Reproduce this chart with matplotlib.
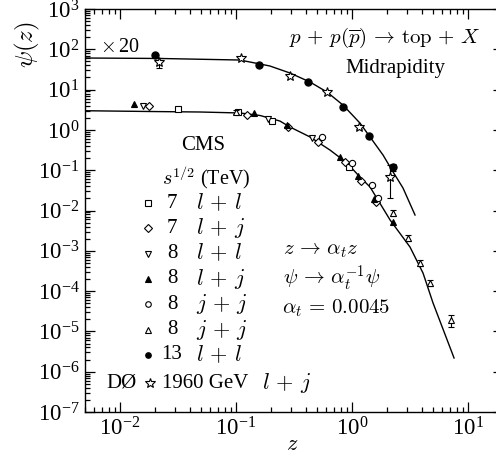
import numpy as np
import matplotlib
matplotlib.use("Agg")
import matplotlib.pyplot as plt
from matplotlib.ticker import LogLocator, FixedLocator, NullFormatter

plt.rcParams['font.family'] = ['Liberation Serif', 'DejaVu Serif']
plt.rcParams['mathtext.fontset'] = 'cm'

# fit curves
curve_lo_z = [0.005, 0.0182, 0.049, 0.108, 0.161, 0.239, 0.292, 0.435, 0.645,
              0.906, 1.17, 1.43, 2.13, 3.16, 4.09, 4.99, 7.57]
curve_lo_psi = [2.99, 2.86, 2.78, 2.63, 2.28, 1.66, 1.18, 0.667, 0.317,
                0.151, 0.0678, 0.0383, 5.8e-3, 1.24e-3, 2.81e-4, 5.07e-5, 2.19e-6]
curve_hi_z = [0.005, 0.0221, 0.108, 0.161, 0.196, 0.292, 0.435, 0.608, 0.835,
              1.17, 1.43, 1.85, 2.26, 2.75, 3.49]
curve_hi_psi = [60.8, 59.2, 54.2, 43.2, 38.5, 25.8, 15.4, 8.71, 4.15,
                1.48, 0.667, 0.238, 0.0902, 0.0361, 7.73e-3]

# CMS data (lower set)
sq_z = [0.0316, 0.105, 0.204, 0.942]
sq_psi = [3.3, 2.75, 1.66, 0.12]
dia_z = [0.0178, 0.124, 0.281, 0.509, 0.871, 1.20, 1.60]
dia_psi = [3.9, 2.35, 1.18, 0.50, 0.16, 0.054, 0.016]
dtri_z = [0.0158, 0.189, 0.452]
dtri_psi = [3.9, 1.86, 0.63]
ftri_z = [0.0132, 0.143, 0.275, 0.789, 1.13, 1.55, 2.26]
ftri_psi = [4.4, 2.6, 1.3, 0.21, 0.072, 0.019, 5.2e-3]
circ_z = [0.55, 1.0, 1.49, 1.66]
circ_psi = [0.68, 0.15, 0.043, 0.021]
otri_z = [0.10, 2.26, 3.04, 3.85, 4.70, 7.13]
otri_psi = [2.8, 8.7e-3, 2.1e-3, 5.0e-4, 1.6e-4, 1.9e-5]
otri_err = [0.3, 1.5e-3, 3.5e-4, 8.5e-5, 2.7e-5, 6.5e-6]

# x20 set
fcirc_z = [0.020, 0.158, 0.418, 0.835, 1.40, 2.26]
fcirc_psi = [72, 41, 15.5, 3.7, 0.71, 0.12]
fcirc_err = [0, 0, 0, 0, 0, 0.025]
star_z = [0.0217, 0.110, 0.292, 0.608, 1.15, 2.13]
star_psi = [48, 61, 21.7, 8.7, 1.18, 0.068]
star_err_lo = [13, 0, 0, 0, 0.12, 0.048]
star_err_hi = [13, 0, 0, 0, 0.12, 0.067]

x_major = [1e-2, 1e-1, 1e0, 1e1]
y_major = [1e-7, 1e-6, 1e-5, 1e-4, 1e-3, 1e-2, 1e-1, 1e0, 1e1, 1e2, 1e3]

W, H = 496, 463
fig = plt.figure(figsize=(W / 100, H / 100), dpi=100)
ax = fig.add_axes([85 / W, 1 - 412 / H, 418 / W, 403 / H])


def px(x, y):
    return x / W, 1 - y / H


ax.plot(curve_lo_z, curve_lo_psi, color='black', lw=1.0, zorder=2)
ax.plot(curve_hi_z, curve_hi_psi, color='black', lw=1.0, zorder=2)

mk = dict(ms=4.5, mew=0.8, mec='black', linestyle='none', zorder=3)
eb = dict(ecolor='black', elinewidth=0.8, capsize=2.5, capthick=0.8)
ax.plot(sq_z, sq_psi, marker='s', mfc='white', **dict(mk, ms=4.2))
ax.plot(dia_z, dia_psi, marker='D', mfc='white', **dict(mk, ms=4.0))
ax.plot(dtri_z, dtri_psi, marker='v', mfc='white', **mk)
ax.plot(ftri_z, ftri_psi, marker='^', mfc='black', **mk)
ax.plot(circ_z, circ_psi, marker='o', mfc='white', **mk)
ax.errorbar(otri_z, otri_psi, yerr=otri_err, marker='^', mfc='white', **eb, **dict(mk, ms=4.0))
ax.errorbar(fcirc_z, fcirc_psi, yerr=fcirc_err, marker='o', mfc='black', **eb, **dict(mk, ms=5.2))
ax.errorbar(star_z, star_psi, yerr=[star_err_lo, star_err_hi], marker='*', mfc='white',
            **eb, **dict(mk, ms=7))

ax.set_xscale('log')
ax.set_yscale('log')
ax.set_xlim(0.005, 20)
ax.set_ylim(1e-7, 1e3)
ax.yaxis.set_major_locator(FixedLocator(y_major))
ax.yaxis.set_minor_locator(LogLocator(base=10, subs=np.arange(2, 10), numticks=100))
ax.yaxis.set_minor_formatter(NullFormatter())
ax.xaxis.set_major_locator(FixedLocator(x_major))
ax.xaxis.set_minor_locator(LogLocator(base=10, subs=np.arange(2, 10), numticks=100))
ax.xaxis.set_minor_formatter(NullFormatter())
ax.tick_params(which='both', direction='in', top=True, right=True, width=0.9,
               labelsize=16.5, pad=4)
ax.tick_params(which='major', length=7)
ax.tick_params(which='minor', length=3.5)
for s in ax.spines.values():
    s.set_linewidth(1.0)

# axis labels
fig.text(*px(292, 446), '$z$', fontsize=16, ha='center', va='center')
fig.text(*px(27, 45), r'$\psi(z)$', fontsize=18, ha='center', va='center', rotation=90)

# annotations
fig.text(*px(100, 47), r'$\times\,$20', fontsize=14.5, ha='left', va='center')
fig.text(*px(481, 38), r'$p\,+\,p(\overline{p})\,\rightarrow\,\mathrm{top}\,+\,X$',
         fontsize=15, ha='right', va='center')
fig.text(*px(395, 68), 'Midrapidity', fontsize=15, ha='center', va='center')
fig.text(*px(283, 250), r'$z\,\rightarrow\,\alpha_t z$', fontsize=15, ha='left', va='center')
fig.text(*px(283, 278), r'$\psi\,\rightarrow\,\alpha_t^{-1}\psi$', fontsize=15, ha='left', va='center')
fig.text(*px(282, 308), r'$\alpha_t\,=\,0.0045$', fontsize=15, ha='left', va='center')

# hand-made legend
fig.text(*px(203, 145), 'CMS', fontsize=15, ha='center', va='center')
fig.text(*px(162, 178), r'$s^{1/2}$ (TeV)', fontsize=14.5, ha='left', va='center')

rows = [('s', 'white', '7', r'$l\,+\,l$'), ('D', 'white', '7', r'$l\,+\,j$'),
        ('v', 'white', '8', r'$l\,+\,l$'), ('^', 'black', '8', r'$l\,+\,j$'),
        ('o', 'white', '8', r'$j\,+\,j$'), ('^', 'white', '8', r'$j\,+\,j$'),
        ('o', 'black', '13', r'$l\,+\,l$')]
for i, (m, fc, num, lab) in enumerate(rows):
    yy = 203 + i * 25.3
    ms = 3.6 if m == 'D' else 4.0
    fig.lines.append(plt.Line2D([148 / W], [1 - yy / H], marker=m, ms=ms, mfc=fc,
                                mec='black', mew=0.8, transform=fig.transFigure))
    fig.text(*px(172, yy), num, fontsize=15, ha='center', va='center')
    fig.text(*px(196, yy), lab, fontsize=16, ha='left', va='center')

yy = 383
fig.text(*px(106, yy), 'DØ', fontsize=15, ha='left', va='center')
fig.lines.append(plt.Line2D([150 / W], [1 - yy / H], marker='*', ms=7, mfc='white',
                            mec='black', mew=0.8, transform=fig.transFigure))
fig.text(*px(162, yy), '1960 GeV', fontsize=15, ha='left', va='center')
fig.text(*px(262, yy), r'$l\,+\,j$', fontsize=16, ha='left', va='center')

fig.savefig('out.png', dpi=100)
